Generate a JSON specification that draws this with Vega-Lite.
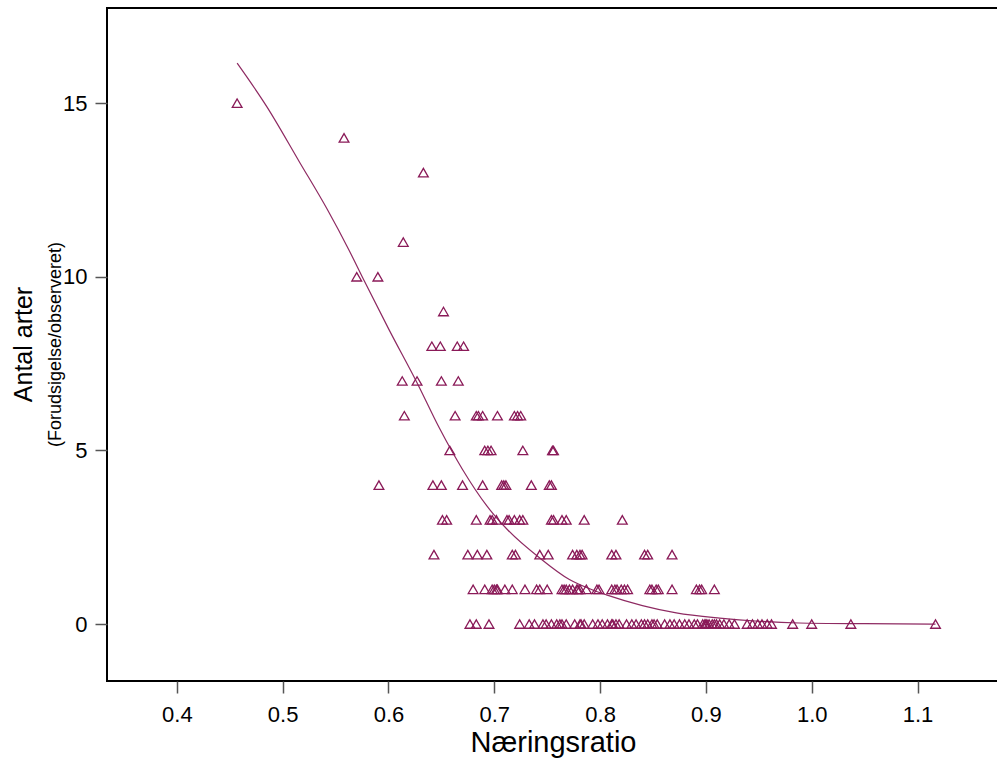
{
  "$schema": "https://vega.github.io/schema/vega-lite/v6.json",
  "width": 892,
  "height": 673,
  "autosize": "none",
  "padding": {"left": 107, "top": 8, "right": 0, "bottom": 84},
  "background": "white",
  "config": {
    "font": "Liberation Sans",
    "view": {"stroke": "black", "strokeWidth": 2},
    "axis": {"grid": false, "labelFont": "Liberation Sans", "titleFont": "Liberation Sans", "labelColor": "black", "titleColor": "black", "domain": false, "tickColor": "#555555", "tickWidth": 1.5, "tickSize": 12, "labelFontSize": 22, "titleFontWeight": "normal"}
  },
  "title": {"text": "Antal arter", "subtitle": "(Forudsigelse/observeret)", "orient": "left", "anchor": "middle", "fontSize": 25, "subtitleFontSize": 18, "font": "Liberation Sans", "subtitleFont": "Liberation Sans", "fontWeight": "normal", "color": "black", "subtitleColor": "black", "offset": -2, "subtitlePadding": 10},
  "datasets": {
    "obs": [
      {"x": 0.457, "y": 15},
      {"x": 0.558, "y": 14},
      {"x": 0.633, "y": 13},
      {"x": 0.614, "y": 11},
      {"x": 0.570, "y": 10}, {"x": 0.590, "y": 10},
      {"x": 0.652, "y": 9},
      {"x": 0.641, "y": 8}, {"x": 0.649, "y": 8}, {"x": 0.665, "y": 8}, {"x": 0.671, "y": 8},
      {"x": 0.613, "y": 7}, {"x": 0.627, "y": 7}, {"x": 0.650, "y": 7}, {"x": 0.666, "y": 7},
      {"x": 0.615, "y": 6}, {"x": 0.663, "y": 6}, {"x": 0.683, "y": 6}, {"x": 0.685, "y": 6}, {"x": 0.689, "y": 6}, {"x": 0.703, "y": 6}, {"x": 0.719, "y": 6}, {"x": 0.722, "y": 6}, {"x": 0.725, "y": 6},
      {"x": 0.658, "y": 5}, {"x": 0.691, "y": 5}, {"x": 0.694, "y": 5}, {"x": 0.697, "y": 5}, {"x": 0.727, "y": 5}, {"x": 0.755, "y": 5}, {"x": 0.756, "y": 5},
      {"x": 0.591, "y": 4}, {"x": 0.642, "y": 4}, {"x": 0.650, "y": 4}, {"x": 0.670, "y": 4}, {"x": 0.689, "y": 4}, {"x": 0.707, "y": 4}, {"x": 0.709, "y": 4}, {"x": 0.711, "y": 4}, {"x": 0.735, "y": 4}, {"x": 0.752, "y": 4}, {"x": 0.754, "y": 4},
      {"x": 0.651, "y": 3}, {"x": 0.655, "y": 3}, {"x": 0.683, "y": 3}, {"x": 0.696, "y": 3}, {"x": 0.698, "y": 3}, {"x": 0.702, "y": 3}, {"x": 0.712, "y": 3}, {"x": 0.714, "y": 3}, {"x": 0.719, "y": 3}, {"x": 0.724, "y": 3}, {"x": 0.727, "y": 3}, {"x": 0.754, "y": 3}, {"x": 0.756, "y": 3}, {"x": 0.764, "y": 3}, {"x": 0.768, "y": 3}, {"x": 0.785, "y": 3}, {"x": 0.821, "y": 3},
      {"x": 0.643, "y": 2}, {"x": 0.675, "y": 2}, {"x": 0.684, "y": 2}, {"x": 0.693, "y": 2}, {"x": 0.717, "y": 2}, {"x": 0.720, "y": 2}, {"x": 0.743, "y": 2}, {"x": 0.751, "y": 2}, {"x": 0.774, "y": 2}, {"x": 0.778, "y": 2}, {"x": 0.781, "y": 2}, {"x": 0.783, "y": 2}, {"x": 0.811, "y": 2}, {"x": 0.815, "y": 2}, {"x": 0.842, "y": 2}, {"x": 0.845, "y": 2}, {"x": 0.868, "y": 2},
      {"x": 0.680, "y": 1}, {"x": 0.691, "y": 1}, {"x": 0.698, "y": 1}, {"x": 0.700, "y": 1}, {"x": 0.702, "y": 1}, {"x": 0.703, "y": 1}, {"x": 0.710, "y": 1}, {"x": 0.717, "y": 1}, {"x": 0.729, "y": 1}, {"x": 0.740, "y": 1}, {"x": 0.743, "y": 1}, {"x": 0.750, "y": 1}, {"x": 0.764, "y": 1}, {"x": 0.766, "y": 1}, {"x": 0.768, "y": 1}, {"x": 0.771, "y": 1}, {"x": 0.774, "y": 1}, {"x": 0.778, "y": 1}, {"x": 0.779, "y": 1}, {"x": 0.781, "y": 1}, {"x": 0.787, "y": 1}, {"x": 0.797, "y": 1}, {"x": 0.799, "y": 1}, {"x": 0.811, "y": 1}, {"x": 0.814, "y": 1}, {"x": 0.816, "y": 1}, {"x": 0.820, "y": 1}, {"x": 0.823, "y": 1}, {"x": 0.826, "y": 1}, {"x": 0.847, "y": 1}, {"x": 0.849, "y": 1}, {"x": 0.853, "y": 1}, {"x": 0.855, "y": 1}, {"x": 0.868, "y": 1}, {"x": 0.891, "y": 1}, {"x": 0.894, "y": 1}, {"x": 0.896, "y": 1}, {"x": 0.908, "y": 1},
      {"x": 0.677, "y": 0}, {"x": 0.683, "y": 0}, {"x": 0.695, "y": 0}, {"x": 0.724, "y": 0}, {"x": 0.733, "y": 0}, {"x": 0.738, "y": 0}, {"x": 0.746, "y": 0}, {"x": 0.749, "y": 0}, {"x": 0.754, "y": 0}, {"x": 0.759, "y": 0}, {"x": 0.762, "y": 0}, {"x": 0.764, "y": 0}, {"x": 0.768, "y": 0}, {"x": 0.776, "y": 0}, {"x": 0.781, "y": 0}, {"x": 0.782, "y": 0}, {"x": 0.785, "y": 0}, {"x": 0.793, "y": 0}, {"x": 0.798, "y": 0}, {"x": 0.802, "y": 0}, {"x": 0.807, "y": 0}, {"x": 0.811, "y": 0}, {"x": 0.812, "y": 0}, {"x": 0.815, "y": 0}, {"x": 0.818, "y": 0}, {"x": 0.825, "y": 0}, {"x": 0.830, "y": 0}, {"x": 0.834, "y": 0}, {"x": 0.839, "y": 0}, {"x": 0.842, "y": 0}, {"x": 0.845, "y": 0}, {"x": 0.849, "y": 0}, {"x": 0.851, "y": 0}, {"x": 0.854, "y": 0}, {"x": 0.861, "y": 0}, {"x": 0.866, "y": 0}, {"x": 0.870, "y": 0}, {"x": 0.875, "y": 0}, {"x": 0.880, "y": 0}, {"x": 0.884, "y": 0}, {"x": 0.889, "y": 0}, {"x": 0.892, "y": 0}, {"x": 0.897, "y": 0}, {"x": 0.899, "y": 0}, {"x": 0.900, "y": 0}, {"x": 0.901, "y": 0}, {"x": 0.903, "y": 0}, {"x": 0.906, "y": 0}, {"x": 0.908, "y": 0}, {"x": 0.910, "y": 0}, {"x": 0.913, "y": 0}, {"x": 0.917, "y": 0}, {"x": 0.922, "y": 0}, {"x": 0.927, "y": 0}, {"x": 0.939, "y": 0}, {"x": 0.944, "y": 0}, {"x": 0.949, "y": 0}, {"x": 0.953, "y": 0}, {"x": 0.958, "y": 0}, {"x": 0.962, "y": 0}, {"x": 0.982, "y": 0}, {"x": 1.000, "y": 0}, {"x": 1.037, "y": 0}, {"x": 1.117, "y": 0}
    ],
    "fit": [
      {"x": 0.457, "y": 16.15}, {"x": 0.485, "y": 14.9}, {"x": 0.516, "y": 13.3}, {"x": 0.542, "y": 11.95}, {"x": 0.563, "y": 10.75}, {"x": 0.576, "y": 9.95}, {"x": 0.601, "y": 8.45}, {"x": 0.627, "y": 6.95}, {"x": 0.648, "y": 5.65}, {"x": 0.670, "y": 4.45}, {"x": 0.693, "y": 3.4}, {"x": 0.713, "y": 2.7}, {"x": 0.743, "y": 1.9}, {"x": 0.771, "y": 1.28}, {"x": 0.793, "y": 0.98}, {"x": 0.806, "y": 0.84}, {"x": 0.840, "y": 0.53}, {"x": 0.872, "y": 0.32}, {"x": 0.913, "y": 0.17}, {"x": 0.950, "y": 0.08}, {"x": 0.988, "y": 0.03}, {"x": 1.05, "y": 0.01}, {"x": 1.117, "y": 0.0}
    ]
  },
  "encoding": {
    "x": {"field": "x", "type": "quantitative", "scale": {"domain": [0.334, 1.177], "nice": false, "zero": false},
      "axis": {"values": [0.4, 0.5, 0.6, 0.7, 0.8, 0.9, 1.0, 1.1], "format": ".1f", "title": "Næringsratio", "titleFontSize": 29, "labelPadding": 11, "titlePadding": 3}},
    "y": {"field": "y", "type": "quantitative", "scale": {"domain": [-1.64, 17.74], "nice": false, "zero": false},
      "axis": {"values": [0, 5, 10, 15], "title": null, "labelPadding": 8}}
  },
  "layer": [
    {"data": {"name": "fit"}, "mark": {"type": "line", "color": "#8e2a62", "strokeWidth": 1.2, "interpolate": "monotone"}},
    {"data": {"name": "obs"}, "mark": {"type": "point", "shape": "triangle-up", "filled": false, "size": 95, "color": "#8a1a58", "strokeWidth": 1.3, "opacity": 1}}
  ]
}
